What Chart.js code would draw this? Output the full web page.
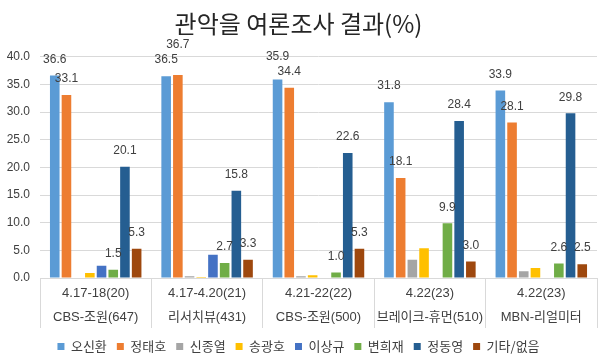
<!DOCTYPE html>
<html>
<head>
<meta charset="utf-8">
<script src="https://cdn.jsdelivr.net/npm/chart.js@4"></script>
<style>
  html, body { margin: 0; padding: 0; background: #fff; }
  #wrap { width: 600px; height: 359px; position: relative; }
</style>
</head>
<body>
<div id="wrap"><canvas id="c"></canvas></div>
<script>
// ---- data ----
const categories = [
  ["4.17-18(20)", "CBS-조원(647)"],
  ["4.17-4.20(21)", "리서치뷰(431)"],
  ["4.21-22(22)", "CBS-조원(500)"],
  ["4.22(23)", "브레이크-휴먼(510)"],
  ["4.22(23)", "MBN-리얼미터"]
];
const seriesNames = ["오신환", "정태호", "신종열", "송광호", "이상규", "변희재", "정동영", "기타/없음"];
const ohShinhwan  = [36.6, 36.5, 35.9, 31.8, 33.9];
const jungTaeho   = [33.1, 36.7, 34.4, 18.1, 28.1];
const shinJongyeol= [null, 0.3, 0.3, 3.3, 1.2];
const songGwangho = [0.9, 0.2, 0.5, 5.4, 1.8];
const leeSanggyu  = [2.2, 4.2, null, null, null];
const byunHuijae  = [1.5, 2.7, 1.0, 9.9, 2.6];
const jungDongyoung = [20.1, 15.8, 22.6, 28.4, 29.8];
const others      = [5.3, 3.3, 5.3, 3.0, 2.5];
const yTicks = [0, 5, 10, 15, 20, 25, 30, 35, 40];
const labeledSeries = [true, true, false, false, false, true, true, true];

const seriesValues = [ohShinhwan, jungTaeho, shinJongyeol, songGwangho, leeSanggyu, byunHuijae, jungDongyoung, others];
const seriesColors = ["#5B9BD5", "#ED7D31", "#A5A5A5", "#FFC000", "#4472C4", "#70AD47", "#255E91", "#9E480E"];

const NUM_FONT = "'Liberation Sans', 'Noto Sans CJK KR', sans-serif";
const KR_FONT = "'Noto Sans CJK KR', 'Liberation Sans', sans-serif";

const labelPlugin = {
  id: 'barLabels',
  afterDatasetsDraw(chart) {
    const ctx = chart.ctx;
    ctx.save();
    ctx.font = "12px " + NUM_FONT;
    ctx.fillStyle = "#404040";
    ctx.textAlign = "center";
    ctx.textBaseline = "middle";
    const h = 14;
    for (let c = 0; c < categories.length; c++) {
      const items = [];
      chart.data.datasets.forEach((ds, di) => {
        if (!labeledSeries[di]) return;
        const v = ds.data[c];
        if (v === null || v === undefined) return;
        const el = chart.getDatasetMeta(di).data[c];
        const txt = v.toFixed(1);
        const w = ctx.measureText(txt).width;
        const it = { x: el.x, y: el.y - 16, w, txt, v };
        for (const o of items) {
          const ox = Math.abs(it.x - o.x) < (it.w + o.w) / 2;
          const oy = Math.abs(it.y - o.y) < h;
          if (ox && oy) {
            if (it.v >= o.v) it.y = o.y - h - 1;
            else o.y = it.y - h - 1;
          }
        }
        items.push(it);
      });
      items.forEach(it => ctx.fillText(it.txt, it.x, it.y));
    }
    ctx.restore();
  }
};

new Chart(document.getElementById('c'), {
  type: 'bar',
  data: {
    labels: categories,
    datasets: seriesNames.map((n, i) => ({
      label: n,
      data: seriesValues[i],
      backgroundColor: seriesColors[i],
      borderWidth: 0,
      categoryPercentage: 0.84,
      barPercentage: 0.82
    }))
  },
  options: {
    responsive: true,
    maintainAspectRatio: false,
    animation: false,
    layout: { padding: { top: 0, left: 0, right: 3, bottom: -4 } },
    plugins: {
      title: {
        display: true,
        text: "관악을 여론조사 결과(%)",
        color: "#262626",
        font: { family: KR_FONT, size: 24, weight: 'normal', lineHeight: 1.2 },
        padding: { top: 9, bottom: 19 }
      },
      legend: {
        position: 'bottom',
        labels: {
          boxWidth: 7, boxHeight: 7, padding: 10,
          color: "#404040",
          font: { family: KR_FONT, size: 13 }
        }
      },
      tooltip: { enabled: false }
    },
    scales: {
      x: {
        afterFit(scale) { scale.height = 52; },
        grid: { display: true, drawOnChartArea: false, drawTicks: true, tickLength: 50, color: "#d9d9d9", offset: true },
        border: { display: true, color: "#d9d9d9" },
        ticks: {
          padding: -47,
          color: "#404040",
          maxRotation: 0,
          autoSkip: false,
          font: { family: NUM_FONT, size: 13, lineHeight: '24px' }
        }
      },
      y: {
        min: 0, max: 40,
        afterFit(scale) { scale.width = 40; },
        afterBuildTicks(scale) { scale.ticks = yTicks.map(v => ({ value: v })); },
        grid: { color: "#d9d9d9", drawTicks: false },
        border: { display: false },
        ticks: {
          padding: 10,
          color: "#404040",
          font: { family: NUM_FONT, size: 12 },
          callback: v => Number(v).toFixed(1)
        }
      }
    }
  },
  plugins: [labelPlugin]
});
</script>
</body>
</html>
